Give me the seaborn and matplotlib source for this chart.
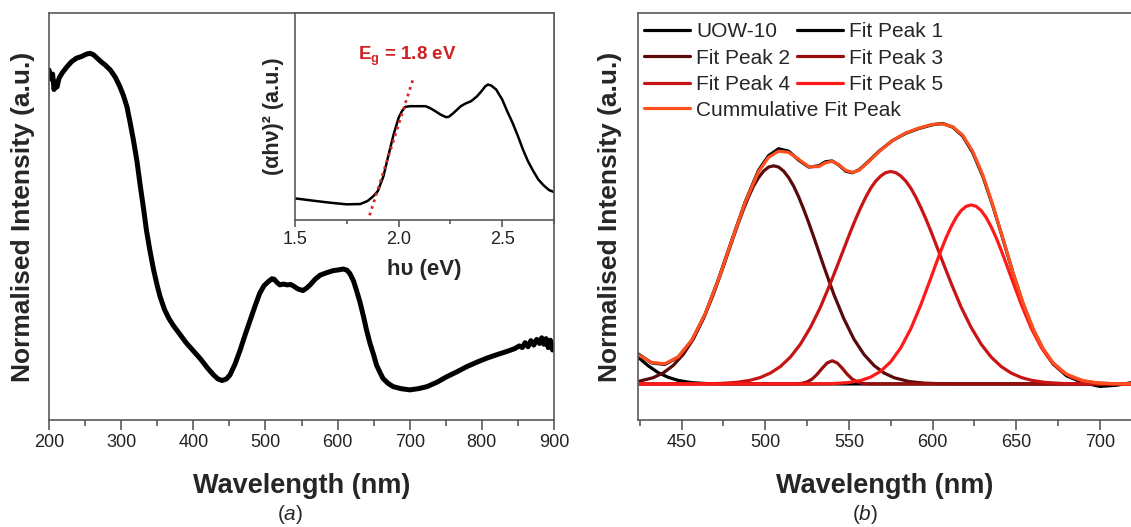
import numpy as np
import pandas as pd
import matplotlib
matplotlib.use("Agg")
import matplotlib.pyplot as plt
import seaborn as sns
from matplotlib.ticker import MultipleLocator

# ---------------- Panel (a): absorption spectrum ----------------
wl_a = [200, 203, 205, 207, 209, 211, 214, 218, 224, 231, 238, 245, 252, 257, 262, 271, 278, 285,
        292, 298, 303, 308, 312, 317, 322, 326, 331, 335, 340, 345, 350, 354, 360, 366, 372, 380,
        390, 400, 410, 420, 428, 434, 440, 446, 451, 458, 465, 472, 479, 486, 492, 498, 504, 509,
        512, 516, 520, 525, 530, 535, 539, 545, 552, 557, 562, 569, 576, 585, 594, 602, 608, 613,
        617, 622, 626, 631, 636, 640, 645, 650, 654, 659, 663, 670, 677, 688, 700, 712, 724, 738,
        751, 765, 779, 793, 807, 820, 834, 845, 852, 856, 860, 864, 868, 872, 876, 880, 883, 886,
        889, 892, 895, 898, 900]
int_a = [0.860, 0.838, 0.850, 0.812, 0.830, 0.818, 0.840, 0.852, 0.866, 0.880, 0.889, 0.893, 0.899,
         0.901, 0.897, 0.882, 0.872, 0.860, 0.842, 0.820, 0.798, 0.770, 0.735, 0.688, 0.635, 0.582,
         0.520, 0.467, 0.415, 0.369, 0.330, 0.303, 0.272, 0.250, 0.233, 0.214, 0.190, 0.170, 0.150,
         0.127, 0.111, 0.101, 0.097, 0.101, 0.111, 0.138, 0.172, 0.210, 0.246, 0.282, 0.311, 0.330,
         0.340, 0.347, 0.346, 0.338, 0.332, 0.334, 0.332, 0.333, 0.329, 0.322, 0.318, 0.324, 0.332,
         0.346, 0.356, 0.362, 0.367, 0.369, 0.371, 0.368, 0.360, 0.342, 0.320, 0.290, 0.254, 0.222,
         0.188, 0.160, 0.135, 0.116, 0.102, 0.090, 0.082, 0.077, 0.074, 0.077, 0.082, 0.093, 0.106,
         0.118, 0.131, 0.142, 0.152, 0.160, 0.168, 0.175, 0.182, 0.178, 0.190, 0.180, 0.195, 0.184,
         0.198, 0.188, 0.202, 0.186, 0.200, 0.178, 0.196, 0.172, 0.185]

# Inset: Tauc plot
hv_in = [1.500, 1.589, 1.669, 1.750, 1.815, 1.850, 1.879, 1.900, 1.927, 1.950, 1.976, 2.000, 2.016,
         2.032, 2.056, 2.100, 2.129, 2.150, 2.177, 2.202, 2.229, 2.242, 2.266, 2.300, 2.323, 2.350,
         2.379, 2.400, 2.419, 2.431, 2.447, 2.471, 2.500, 2.524, 2.550, 2.576, 2.600, 2.624, 2.650,
         2.674, 2.700, 2.726, 2.750]
tauc_in = [0.1045, 0.0932, 0.0836, 0.0756, 0.0772, 0.0916, 0.1158, 0.1399, 0.2122, 0.3087, 0.4132,
           0.4936, 0.5257, 0.5466, 0.5498, 0.5498, 0.5498, 0.5418, 0.5257, 0.5096, 0.4968, 0.4984,
           0.5177, 0.5498, 0.5627, 0.5740, 0.5981, 0.6222, 0.6463, 0.6543, 0.6495, 0.6302, 0.5820,
           0.5257, 0.4695, 0.4051, 0.3408, 0.2846, 0.2363, 0.1961, 0.1672, 0.1447, 0.1350]
tangent_hv = [1.86, 2.069]
tangent_y = [0.0225, 0.678]

# ---------------- Panel (b): peak fitting ----------------
uow_wl = [424, 432, 440, 448, 456, 464, 472, 480, 488, 496, 502, 508, 514, 520, 526, 532, 536, 540,
          544, 548, 552, 556, 562, 568, 576, 584, 592, 600, 606, 612, 618, 624, 630, 636, 642, 648,
          654, 660, 666, 672, 680, 690, 700, 710, 720]
uow_val = [0.074, 0.052, 0.048, 0.066, 0.106, 0.170, 0.257, 0.353, 0.447, 0.525, 0.561, 0.578, 0.572,
           0.550, 0.533, 0.536, 0.546, 0.548, 0.538, 0.523, 0.519, 0.526, 0.548, 0.572, 0.598, 0.616,
           0.628, 0.637, 0.640, 0.631, 0.609, 0.568, 0.510, 0.437, 0.356, 0.273, 0.197, 0.134, 0.085,
           0.049, 0.020, 0.003, -0.006, -0.003, 0.004]
cum_val = [0.072, 0.053, 0.0495, 0.0665, 0.107, 0.171, 0.256, 0.352, 0.446, 0.522, 0.557, 0.572, 0.569,
           0.552, 0.534, 0.534, 0.5435, 0.547, 0.539, 0.525, 0.520, 0.525, 0.547, 0.571, 0.598, 0.617,
           0.629, 0.638, 0.639, 0.632, 0.611, 0.571, 0.513, 0.439, 0.357, 0.274, 0.199, 0.136, 0.087,
           0.052, 0.024, 0.008, 0.002, 0.0005, 0.0]

p1_wl = [424, 430, 436, 442, 448, 456, 466, 480, 720]
p1_val = [0.066, 0.045, 0.028, 0.0165, 0.0088, 0.0033, 0.0008, 0.0, 0.0]

p2_wl = [424, 433, 439, 445, 451, 457, 463, 469, 475, 481, 484, 487, 490, 493, 496, 499, 502, 505,
         508, 511, 514, 517, 520, 523, 526, 529, 535, 541, 547, 553, 559, 565, 571, 577, 586, 595,
         605, 720]
p2_val = [0.006, 0.0153, 0.027, 0.0454, 0.0725, 0.110, 0.160, 0.220, 0.289, 0.361, 0.396, 0.429, 0.4594,
          0.486, 0.507, 0.523, 0.533, 0.536, 0.533, 0.523, 0.507, 0.486, 0.4594, 0.429, 0.396, 0.361,
          0.289, 0.220, 0.160, 0.110, 0.0725, 0.0454, 0.027, 0.0153, 0.006, 0.0021, 0.0006, 0.0]

p3_wl = [424, 518, 522, 525, 528, 531, 534, 537, 540, 543, 546, 549, 552, 555, 558, 562, 720]
p3_val = [0.0, 0.0003, 0.0017, 0.005, 0.012, 0.0238, 0.0386, 0.0517, 0.057, 0.0517, 0.0386, 0.0238,
          0.012, 0.005, 0.0017, 0.0003, 0.0]

p4_wl = [424, 460, 473, 483, 491, 497, 503, 509, 515, 521, 527, 533, 539, 545, 551, 554, 557, 560,
         563, 566, 569, 572, 575, 578, 581, 584, 587, 590, 593, 596, 599, 605, 611, 617, 623, 629,
         635, 641, 647, 653, 659, 667, 677, 690, 720]
p4_val = [0.0, 0.0003, 0.0013, 0.0040, 0.0091, 0.0158, 0.0266, 0.0427, 0.066, 0.0977, 0.139, 0.189,
          0.248, 0.311, 0.375, 0.4052, 0.433, 0.4587, 0.481, 0.4983, 0.511, 0.5193, 0.522, 0.5193,
          0.511, 0.4983, 0.481, 0.4587, 0.433, 0.4052, 0.375, 0.311, 0.248, 0.189, 0.139, 0.0977,
          0.066, 0.0427, 0.0266, 0.0158, 0.0091, 0.0040, 0.0013, 0.0003, 0.0]

p5_wl = [424, 527, 539, 549, 557, 563, 569, 575, 581, 587, 593, 599, 602, 605, 608, 611, 614, 617,
         620, 623, 626, 629, 632, 635, 638, 641, 644, 647, 653, 659, 665, 671, 677, 683, 689, 697,
         707, 719, 720]
p5_val = [0.0, 0.0001, 0.0007, 0.0031, 0.0085, 0.0169, 0.0314, 0.0547, 0.089, 0.136, 0.195, 0.261,
          0.2952, 0.328, 0.359, 0.386, 0.4089, 0.426, 0.4364, 0.44, 0.4364, 0.426, 0.4089, 0.386,
          0.359, 0.328, 0.2952, 0.261, 0.195, 0.136, 0.089, 0.0547, 0.0314, 0.0169, 0.0085, 0.0031,
          0.0007, 0.0001, 0.0]

labels_b = ["UOW-10", "Fit Peak 1", "Fit Peak 2", "Fit Peak 3", "Fit Peak 4", "Fit Peak 5",
            "Cummulative Fit Peak"]
colors_b = ["#000000", "#000000", "#5a0a0a", "#9b0c0c", "#c81414", "#ff1a1a", "#ff5020"]

# ---------------- Style ----------------
sns.set_theme(style="ticks")
plt.rcParams['font.family'] = ['Liberation Sans', 'DejaVu Sans']
plt.rcParams['mathtext.fontset'] = 'custom'
plt.rcParams['mathtext.rm'] = 'Liberation Sans'
plt.rcParams['mathtext.it'] = 'Liberation Sans:italic'
plt.rcParams['mathtext.bf'] = 'Liberation Sans:bold'

W, H = 1131, 527
fig = plt.figure(figsize=(W / 100, H / 100), dpi=100)
axA = fig.add_axes([49 / W, 1 - 420 / H, (554 - 49) / W, 407 / H])
axB = fig.add_axes([638 / W, 1 - 420 / H, (W - 638) / W, 407 / H])
axI = fig.add_axes([295 / W, 1 - 220 / H, (554 - 295) / W, 207 / H])

spine_col = "#5a5a5a"

def style_axes(ax, major, minor, fs):
    for s in ax.spines.values():
        s.set_color(spine_col)
        s.set_linewidth(1.2)
    ax.xaxis.set_major_locator(MultipleLocator(major))
    ax.xaxis.set_minor_locator(MultipleLocator(minor))
    ax.tick_params(axis='x', which='major', direction='out', length=7, width=1.2,
                   color=spine_col, labelsize=fs, pad=3, labelcolor='#222222')
    ax.tick_params(axis='x', which='minor', direction='out', length=4, width=1.2, color=spine_col)
    ax.set_yticks([])

# Panel (a)
sns.lineplot(x=wl_a, y=int_a, ax=axA, color='black', lw=3.6, sort=False, estimator=None)
axA.set_xlim(200, 900)
axA.set_ylim(0, 1)
style_axes(axA, 100, 50, 13)
axA.set_xlabel("Wavelength (nm)", fontsize=19.5, fontweight='bold', labelpad=16)
axA.set_ylabel("Normalised Intensity (a.u.)", fontsize=19, fontweight='bold')
axA.yaxis.set_label_coords(-0.027, 0.5)

# Inset
sns.lineplot(x=hv_in, y=tauc_in, ax=axI, color='black', lw=1.8, sort=False, estimator=None)
axI.plot(tangent_hv, tangent_y, color='#d42a2a', lw=2.0, linestyle=(0, (1, 1.5)))
axI.set_xlim(1.5, 2.75)
axI.set_ylim(0, 1)
axI.set_facecolor('white')
style_axes(axI, 0.5, 0.25, 13)
axI.tick_params(axis='x', which='major', length=5)
axI.tick_params(axis='x', which='minor', length=3)
axI.set_xlabel("h\u03c5 (eV)", fontsize=16, fontweight='bold', labelpad=8)
axI.set_ylabel("(\u03b1h\u03bd)\u00b2 (a.u.)", fontsize=15.5, fontweight='bold', labelpad=8)
axI.text(2.04, 0.79, r"$\mathbf{E_g}$ = 1.8 eV", color='#cc2222', fontsize=13.5,
         fontweight='bold', ha='center', va='center')

# Panel (b)
series_b = [(uow_wl, uow_val), (p1_wl, p1_val), (p2_wl, p2_val), (p3_wl, p3_val),
            (p4_wl, p4_val), (p5_wl, p5_val), (uow_wl, cum_val)]
for (xw, yv), c in zip(series_b, colors_b):
    sns.lineplot(x=xw, y=yv, ax=axB, color=c, lw=2.3, sort=False, estimator=None)
axB.set_xlim(424, 718.5)
axB.set_ylim(-0.0885, 0.9115)
style_axes(axB, 50, 25, 13)
axB.spines['right'].set_visible(False)
axB.set_xlabel("Wavelength (nm)", fontsize=19.5, fontweight='bold', labelpad=16)
axB.set_ylabel("Normalised Intensity (a.u.)", fontsize=19, fontweight='bold')
axB.yaxis.set_label_coords(-0.032, 0.5)

lines = axB.get_lines()
h1 = [lines[0], lines[2], lines[4], lines[1], lines[3], lines[5]]
l1 = [labels_b[0], labels_b[2], labels_b[4], labels_b[1], labels_b[3], labels_b[5]]
leg1 = axB.legend(h1, l1, ncol=2, loc='upper left', bbox_to_anchor=(0.0, 0.993), frameon=False,
                  fontsize=15, handlelength=2.2, handletextpad=0.3, columnspacing=0.3,
                  labelspacing=0.36, borderaxespad=0.0, borderpad=0.3)
axB.add_artist(leg1)
axB.legend([lines[6]], [labels_b[6]], loc='upper left', bbox_to_anchor=(0.0, 0.800),
           frameon=False, fontsize=15, handlelength=2.2, handletextpad=0.3,
           borderaxespad=0.0, borderpad=0.3)

fig.text(290 / W, 1 - 515 / H, r"($\mathit{a}$)", fontsize=15, ha='center', va='center')
fig.text(865 / W, 1 - 515 / H, r"($\mathit{b}$)", fontsize=15, ha='center', va='center')

fig.savefig("out.png", dpi=100)
